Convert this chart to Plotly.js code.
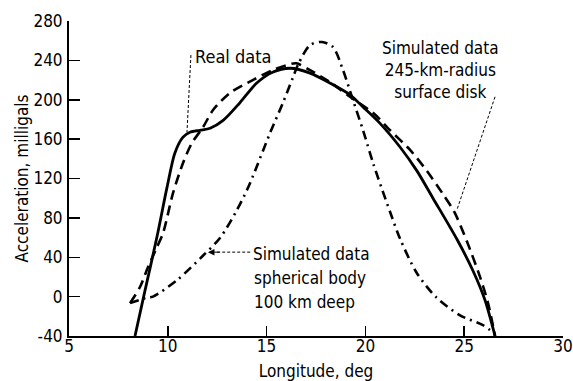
<!DOCTYPE html>
<html>
<head>
<meta charset="utf-8">
<script src="https://cdn.plot.ly/plotly-3.0.1.min.js"></script>
<style>html,body{margin:0;padding:0;background:#fff;}#chart{width:573px;height:381px;}</style>
</head>
<body>
<div id="chart"></div>
<script>
// Real data (solid)
const realX = [8.34, 8.8, 9.45, 9.96, 10.36, 10.77, 11.12, 11.63, 12.14, 12.8, 13.65, 14.5, 15.3, 16.2, 17.2, 18.2, 19.22, 19.88, 20.74, 21.75, 22.6, 23.42, 24.64, 25.45, 26.05, 26.56];
const realY = [-40, 2, 60.5, 111, 146, 162, 167, 169, 171, 179, 197, 217, 228, 232, 227, 217, 205, 192.6, 176, 152, 128, 100, 58, 26, -3.5, -40];
// Simulated data, 245-km-radius surface disk (dashed)
const diskX = [8.09, 8.6, 9.0, 9.4, 9.76, 10.26, 10.77, 11.22, 11.78, 12.29, 13.15, 14.3, 15.3, 16.0, 16.5, 17.2, 18.2, 19.22, 20.4, 21.25, 22.26, 23.1, 23.93, 24.5, 25.14, 25.8, 26.2, 26.56];
const diskY = [-6.6, 10, 30, 48, 64.5, 105, 135.7, 156, 172, 189.6, 207, 220, 230, 235, 237, 230, 218, 203, 186.5, 169, 149, 128, 104, 86, 56, 20, -6, -40];
// Simulated data, spherical body 100 km deep (dash-dot)
const sphereX = [8.09, 8.95, 9.25, 10.47, 11.8, 12.64, 13.5, 14.0, 14.3, 15.17, 15.83, 16.34, 16.6, 17.2, 17.8, 18.36, 18.87, 19.37, 19.88, 20.4, 21.0, 21.25, 21.75, 22.6, 23.6, 24.79, 25.95, 26.56];
const sphereY = [-6.6, -1, 0, 16.8, 42, 59.5, 88, 108, 122, 166, 197, 223, 236, 255.6, 258.7, 253.6, 230, 199.7, 169, 135, 100, 86, 59, 24, -1, -19, -29, -38];

const xTicks = [5, 10, 15, 20, 25, 30];
const yTicks = [-40, 0, 40, 80, 120, 160, 200, 240, 280];

const FONT = "DejaVu Sans Condensed, Liberation Sans Narrow, sans-serif";

const traces = [
  {x: realX, y: realY, mode: 'lines', line: {color: '#000', width: 2.8, shape: 'spline', smoothing: 0.8}, hoverinfo: 'skip'},
  {x: diskX, y: diskY, mode: 'lines', line: {color: '#000', width: 2.6, dash: '10px,6px', shape: 'spline', smoothing: 0.8}, hoverinfo: 'skip'},
  {x: sphereX, y: sphereY, mode: 'lines', line: {color: '#000', width: 2.6, dash: '9px,5px,2px,5px', shape: 'spline', smoothing: 0.8}, hoverinfo: 'skip'}
];

const layout = {
  width: 573, height: 381,
  margin: {l: 69, r: 10, t: 21, b: 45},
  paper_bgcolor: '#fff', plot_bgcolor: '#fff',
  showlegend: false,
  font: {family: FONT, size: 17, color: '#000'},
  xaxis: {
    range: [5, 30], tickvals: xTicks, ticktext: xTicks.map(String),
    ticks: 'inside', ticklen: 10, tickwidth: 1.5, tickcolor: '#000',
    showline: true, linecolor: '#000', linewidth: 2, mirror: false,
    showgrid: false, zeroline: false, ticklabelstandoff: -6,
    title: {text: 'Longitude, deg', font: {family: FONT, size: 17}, standoff: 12}
  },
  yaxis: {
    range: [-40, 280], tickvals: yTicks, ticktext: yTicks.map(String),
    ticks: 'inside', ticklen: 11, tickwidth: 1.5, tickcolor: '#000',
    showline: true, linecolor: '#000', linewidth: 2, mirror: false,
    showgrid: false, zeroline: false, ticklabelstandoff: 1,
    title: {text: 'Acceleration, milligals', font: {family: FONT, size: 17}, standoff: 0}
  },
  shapes: [
    {type: 'line', xref: 'x', yref: 'y', x0: 11.17, y0: 245.4, x1: 10.97, y1: 167, line: {color: '#000', width: 1, dash: '3px,2px'}},
    {type: 'line', xref: 'x', yref: 'y', x0: 26.56, y0: 203, x1: 24.63, y1: 88, line: {color: '#000', width: 1, dash: '3px,2px'}},
    {type: 'line', xref: 'x', yref: 'y', x0: 12.5, y0: 45.2, x1: 14.25, y1: 45.2, line: {color: '#000', width: 1, dash: '3px,2px'}}
  ],
  annotations: [
    {x: 11.3, y: 244, xref: 'x', yref: 'y', text: 'Real data', showarrow: false, xanchor: 'left', yanchor: 'middle', font: {family: FONT, size: 18}},
    {x: 23.78, y: 230, xref: 'x', yref: 'y', text: 'Simulated data<br>245-km-radius<br>surface disk', showarrow: false, xanchor: 'center', yanchor: 'middle', align: 'center', font: {family: FONT, size: 17}},
    {x: 17.25, y: 43.2, xref: 'x', yref: 'y', text: 'Simulated data', showarrow: false, xanchor: 'center', yanchor: 'middle', font: {family: FONT, size: 17}},
    {x: 17.2, y: 18.8, xref: 'x', yref: 'y', text: 'spherical body', showarrow: false, xanchor: 'center', yanchor: 'middle', font: {family: FONT, size: 17}},
    {x: 16.94, y: -5.6, xref: 'x', yref: 'y', text: '100 km deep', showarrow: false, xanchor: 'center', yanchor: 'middle', font: {family: FONT, size: 17}},
    {x: 12.03, y: 45.2, xref: 'x', yref: 'y', ax: 12.7, ay: 45.2, axref: 'x', ayref: 'y', text: '', showarrow: true, arrowhead: 2, arrowsize: 1.3, arrowwidth: 1, arrowcolor: '#000'}
  ]
};

Plotly.newPlot('chart', traces, layout, {displayModeBar: false, staticPlot: true});
</script>
</body>
</html>
